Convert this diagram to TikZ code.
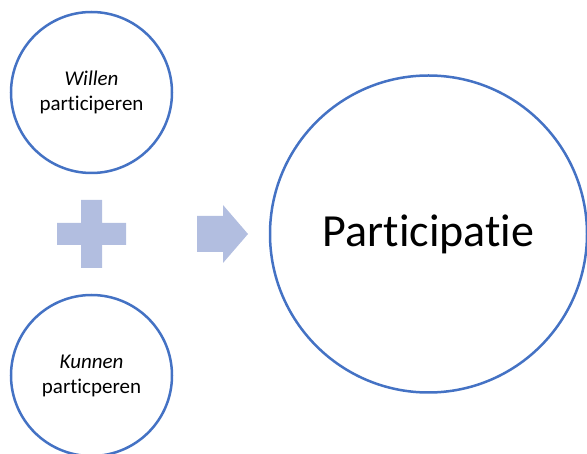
\documentclass[tikz,border=0pt]{standalone}
\usepackage{fontspec}
\setmainfont{Carlito}[Ligatures=NoCommon]
\definecolor{ringblue}{RGB}{68,114,196}
\definecolor{signblue}{RGB}{178,190,224}
\begin{document}
\begin{tikzpicture}[x=1pt,y=-1pt,
    ring/.style={circle,draw=ringblue,line width=2.5pt,fill=white,inner sep=0pt,align=center},
    small/.style={ring,minimum size=161pt,font=\fontsize{21}{25}\selectfont},
    sign/.style={fill=signblue,draw=none}]
      \useasboundingbox (0,0) rectangle (587,454);

      \node[small] (willen) at (91.5,92.5) {\textit{Willen}\\participeren};
      \node[small] (kunnen) at (91.5,375.5) {\textit{Kunnen}\\particperen};
      \node[ring,minimum size=317pt,font=\fontsize{46}{56}\selectfont] (part) at (428.5,234) {Participatie};

      % plus
      \coordinate (plus) at (91.5,234);
      \fill[sign] (plus) ++(-10.5,-34) -- ++(21,0) -- ++(0,23) -- ++(24,0) -- ++(0,22)
        -- ++(-24,0) -- ++(0,23) -- ++(-21,0) -- ++(0,-23) -- ++(-24,0) -- ++(0,-22)
        -- ++(24,0) -- cycle;

      % arrow
      \coordinate (tip) at (248,234);
      \fill[sign] (tip) -- ++(-25,29) -- ++(0,-11) -- ++(-26,0) -- ++(0,-36)
        -- ++(26,0) -- ++(0,-11) -- cycle;
\end{tikzpicture}
\end{document}
